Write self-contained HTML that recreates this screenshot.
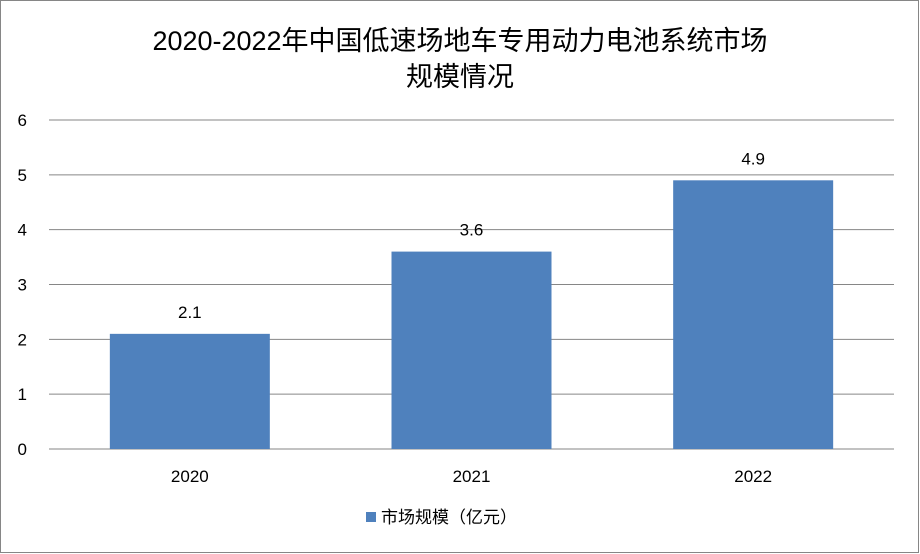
<!DOCTYPE html>
<html><head><meta charset="utf-8"><style>
html,body{margin:0;padding:0;background:#fff;}
svg{display:block;font-family:"Liberation Sans","Noto Sans CJK SC",sans-serif;}
</style></head><body>
<svg id="c" width="920" height="554">
<rect x="0.5" y="0.5" width="918" height="552" fill="#fff" stroke="#868686"/>
<text x="460" y="50" text-anchor="middle" font-size="27" fill="#000">2020-2022年中国低速场地车专用动力电池系统市场</text>
<text x="460" y="86" text-anchor="middle" font-size="27" fill="#000">规模情况</text>
<g id="grid"></g><g id="bars"></g><g id="labels"></g>
<rect x="366" y="512" width="10" height="10" fill="#4f81bd"/>
<text x="381" y="523" font-size="17" fill="#000">市场规模（亿元）</text>
</svg>
<script>
const categories=["2020","2021","2022"];
const values=[2.1,3.6,4.9];
const yTicks=[0,1,2,3,4,5,6];
const NS="http://www.w3.org/2000/svg";
const L=49,R=894,T=120,B=449,maxV=6;
const y=v=>B-(B-T)*v/maxV;
const band=(R-L)/categories.length;
const x=i=>L+band*i+band/2;
function mk(tag,a,p){const e=document.createElementNS(NS,tag);for(const k in a)e.setAttribute(k,a[k]);p.appendChild(e);return e;}
const g=document.getElementById('grid'),b=document.getElementById('bars'),lb=document.getElementById('labels');
yTicks.forEach(t=>{
 const l=mk('line',{x1:L,x2:R,y1:y(t),y2:y(t),stroke:t===0?'#868686':'#868686','stroke-width':1},g);
 
 
 const tx=mk('text',{x:27,y:y(t)+6,'text-anchor':'end','font-size':17,fill:'#000'},g);
 tx.textContent=t;
 
 
});
categories.forEach((c,i)=>{
 const w=160;
 const r=mk('rect',{x:x(i)-w/2,y:y(values[i]),width:w,height:B-y(values[i]),fill:'#4f81bd'},b);
 
 
 const v=mk('text',{x:x(i),y:y(values[i])-16,'text-anchor':'middle','font-size':17,fill:'#000'},lb);
 v.textContent=values[i];
 
 
 const cx=mk('text',{x:x(i),y:482,'text-anchor':'middle','font-size':17,fill:'#000'},lb);
 cx.textContent=c;
 
 
});
</script>
</body></html>
